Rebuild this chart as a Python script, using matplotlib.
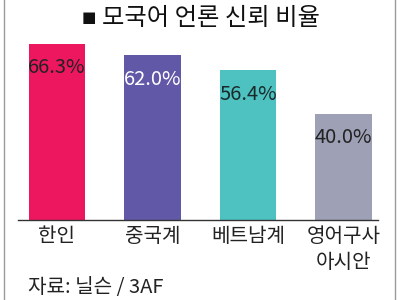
import matplotlib
matplotlib.use("Agg")
import matplotlib.pyplot as plt
from matplotlib.lines import Line2D

plt.rcParams['font.family'] = ['Noto Sans CJK KR', 'DejaVu Sans']

categories = ["한인", "중국계", "베트남계", "영어구사\n아시안"]
values = [66.3, 62.0, 56.4, 40.0]
value_labels = ["66.3%", "62.0%", "56.4%", "40.0%"]
colors = ["#EC175F", "#6258A8", "#4EC1C1", "#9EA0B6"]
label_colors = ["#222222", "#FFFFFF", "#1a2a2a", "#222222"]
title = "모국어 언론 신뢰 비율"
source = "자료: 닐슨 / 3AF"

fig = plt.figure(figsize=(4, 3), dpi=100)
fig.patch.set_facecolor("white")

ax = fig.add_axes([0.045, 0.2667, 0.90, 0.6196])
x = list(range(len(values)))
ax.bar(x, values, width=0.59, color=colors, zorder=2)
ax.set_xlim(-0.408, 3.361)
ax.set_ylim(0, 70)
for s in ["top", "right", "left"]:
    ax.spines[s].set_visible(False)
ax.spines["bottom"].set_color("#333333")
ax.spines["bottom"].set_linewidth(1.0)
ax.set_yticks([])
ax.set_xticks(x)
ax.set_xticklabels(categories, fontsize=14.5, color="#222222", linespacing=1.35, va="top")
ax.tick_params(axis="x", length=0, pad=4)

for xi, v, lab, lc in zip(x, values, value_labels, label_colors):
    ax.text(xi, v - 9, lab, ha="center", va="center", fontsize=14.5, color=lc)

fig.text(0.205, 0.94, "■", fontsize=11, color="#111111", ha="left", va="center",
         family=["DejaVu Sans"])
fig.text(0.527, 0.94, title, fontsize=17.5, color="#111111", ha="center", va="center")
fig.text(0.07, 0.042, source, fontsize=14.5, color="#222222", ha="left", va="center")

# frame lines on the left and right
fig.add_artist(Line2D([0.011, 0.011], [0, 1], transform=fig.transFigure, color="#999999", lw=1.0))
fig.add_artist(Line2D([0.988, 0.988], [0, 1], transform=fig.transFigure, color="#999999", lw=1.0))

fig.savefig("out.png", dpi=100, facecolor="white")
